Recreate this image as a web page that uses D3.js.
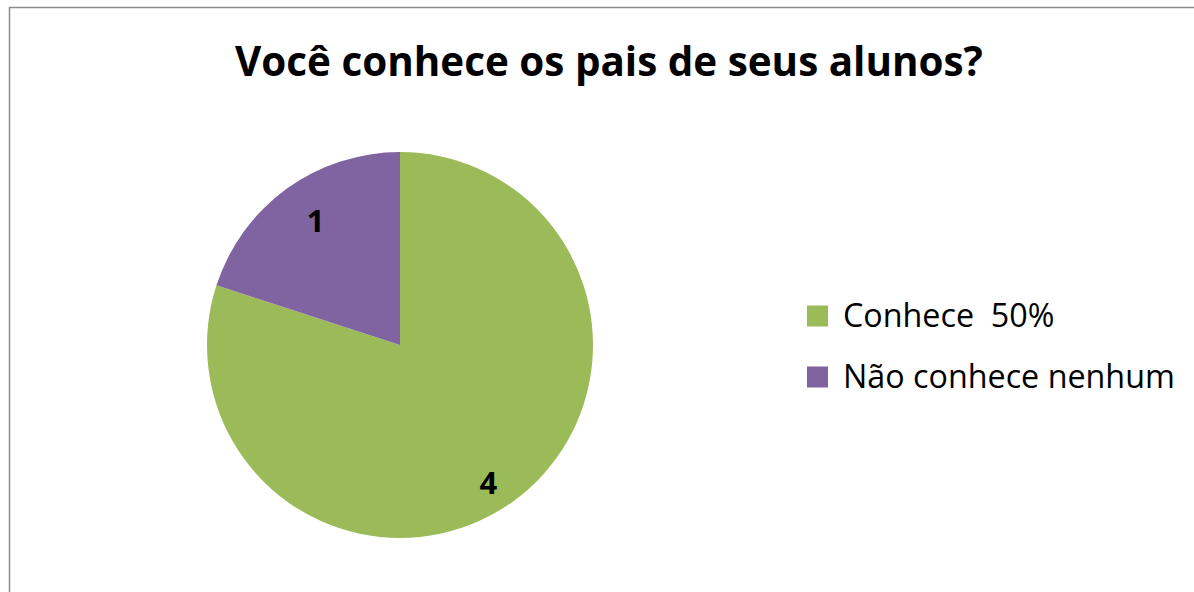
<!DOCTYPE html>
<html>
<head>
<meta charset="utf-8">
<title>Você conhece os pais de seus alunos?</title>
<style>
  body { margin: 0; background: #fff; }
  svg { display: block; }
  .title { font-family: "Open Sans", sans-serif; font-weight: 700; }
  .legend text { font-family: "Open Sans", sans-serif; }
  .slice-label { font-family: "Open Sans", sans-serif; font-weight: 700; }
</style>
</head>
<body>
<script src="https://cdn.jsdelivr.net/npm/d3@7"></script>
<script>
// data
var categories = ["Conhece  50%", "Não conhece nenhum"];
var values = [4, 1];
var colors = ["#9BBB59", "#8064A2"];
var titleText = "Você conhece os pais de seus alunos?";

var width = 1194, height = 592;

var svg = d3.select("body").append("svg")
    .attr("width", width)
    .attr("height", height);

// chart frame (right and bottom edges run off the page)
svg.append("rect")
    .attr("x", 9.5).attr("y", 7.5)
    .attr("width", 1200).attr("height", 600)
    .attr("fill", "#fff")
    .attr("stroke", "#8c8c8c")
    .attr("stroke-width", 1.5);

// fit text to a measured width
function fitWidth(sel, target) {
  var fs = parseFloat(sel.attr("font-size"));
  var w = sel.node().getComputedTextLength();
  sel.attr("font-size", fs * target / w);
}

var title = svg.append("text")
    .attr("class", "title")
    .attr("x", 609).attr("y", 76)
    .attr("text-anchor", "middle")
    .attr("font-size", 42)
    .text(titleText);
fitWidth(title, 748);

// pie
var cx = 400, cy = 345, r = 193;
var pie = d3.pie().sort(null).value(function(d) { return d; });
var arc = d3.arc().innerRadius(0).outerRadius(r);
var labelR = [164, 150];

var g = svg.append("g").attr("transform", "translate(" + cx + "," + cy + ")");
var arcs = pie(values);

g.selectAll("path.slice")
    .data(arcs)
  .enter().append("path")
    .attr("class", "slice")
    .attr("d", arc)
    .attr("fill", function(d, i) { return colors[i]; });

g.selectAll("text.slice-label")
    .data(arcs)
  .enter().append("text")
    .attr("class", "slice-label")
    .attr("transform", function(d, i) {
      var a = (d.startAngle + d.endAngle) / 2 + (i === 0 ? 0.06 : 0.03);
      return "translate(" + [Math.sin(a) * labelR[i], -Math.cos(a) * labelR[i]] + ")";
    })
    .attr("text-anchor", "middle")
    .attr("dy", "0.36em")
    .attr("font-size", 31)
    .text(function(d) { return d.data; });

// legend
var legend = svg.append("g").attr("class", "legend");
var rowY = [316, 377];

var items = legend.selectAll("g")
    .data(categories)
  .enter().append("g")
    .attr("transform", function(d, i) { return "translate(807," + rowY[i] + ")"; });

items.append("rect")
    .attr("x", 0).attr("y", -10.5)
    .attr("width", 21).attr("height", 21)
    .attr("fill", function(d, i) { return colors[i]; });

var legendText = items.append("text")
    .attr("x", 36)
    .attr("y", 11)
    .attr("font-size", 30)
    .style("white-space", "pre")
    .text(function(d) { return d; });

// scale both legend labels the same, using the longer one
var longest = legendText.filter(function(d, i) { return i === 1; });
var w = longest.node().getComputedTextLength();
legendText.attr("font-size", 30 * 332 / w);
</script>
</body>
</html>
